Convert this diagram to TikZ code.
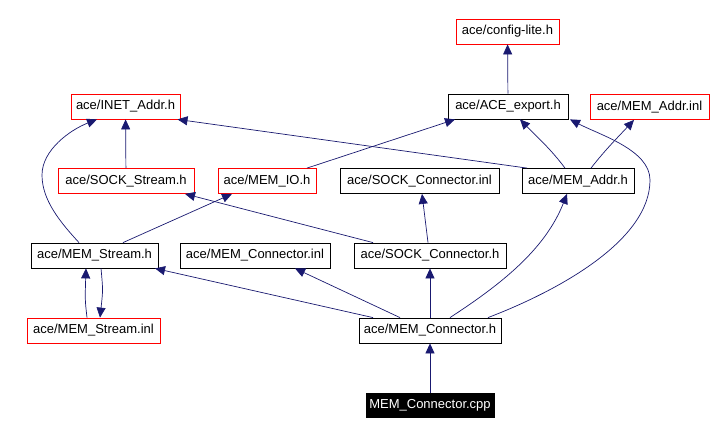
\documentclass[tikz,border=0pt]{standalone}
\usepackage{fontspec}
\setmainfont{Liberation Sans}
\usetikzlibrary{arrows.meta}
\definecolor{midnight}{RGB}{25,25,112}
\tikzstyle{header}=[draw=red,line width=0.8pt,minimum height=25pt,inner sep=0pt,font=\fontsize{13}{15}\selectfont]
\tikzstyle{file}=[draw=black,line width=0.8pt,minimum height=25pt,inner sep=0pt,font=\fontsize{13}{15}\selectfont]
\tikzstyle{source}=[fill=black,text=white,minimum height=25pt,inner sep=0pt,font=\fontsize{13}{15}\selectfont]

\begin{document}
\begin{tikzpicture}[x=1pt,y=-1pt]
    \tikzstyle{dep}=[draw=midnight,line width=0.7pt,-{Triangle[length=10pt,width=9pt]}]
    \useasboundingbox (0,0) rectangle (714,435);
    \node[header,minimum width=103pt] (config) at (507.5,31.5) {ace/config-lite.h};
    \node[file,minimum width=120pt] (export) at (508,106.5) {ace/ACE\_export.h};
    \node[header,minimum width=119pt] (addrinl) at (649.5,107) {ace/MEM\_Addr.inl};
    \node[header,minimum width=109pt] (inet) at (125.5,106.5) {ace/INET\_Addr.h};
    \node[header,minimum width=136pt] (sockstream) at (126,181) {ace/SOCK\_Stream.h};
    \node[header,minimum width=98pt] (memio) at (267,181) {ace/MEM\_IO.h};
    \node[file,minimum width=159pt] (sockconninl) at (419.5,181) {ace/SOCK\_Connector.inl};
    \node[file,minimum width=112pt] (memaddr) at (578,181) {ace/MEM\_Addr.h};
    \node[file,minimum width=127pt] (memstream) at (94.5,255.5) {ace/MEM\_Stream.h};
    \node[file,minimum width=150pt] (memconninl) at (255,255.5) {ace/MEM\_Connector.inl};
    \node[file,minimum width=152pt] (sockconn) at (430,255.5) {ace/SOCK\_Connector.h};
    \node[header,minimum width=133pt] (memstreaminl) at (93.5,330.5) {ace/MEM\_Stream.inl};
    \node[file,minimum width=142pt] (memconn) at (430,330.5) {ace/MEM\_Connector.h};
    \node[source,minimum width=129pt] (cpp) at (430,405.5) {MEM\_Connector.cpp};
    % includes
    \draw[dep] (export) -- (config);
    \draw[dep] ([xshift=40pt]memio.north) -- ([xshift=-53pt]export.south);
    \draw[dep] ([xshift=-13pt]memaddr.north) .. controls (550,148) and (535,135) .. ([xshift=12pt]export.south);
    \draw[dep] ([xshift=13pt]memaddr.north) .. controls (605,150) and (620,135) .. ([xshift=-15.5pt]addrinl.south);
    \draw[dep] ([xshift=-51pt]memaddr.north) -- ([xshift=52pt]inet.south);
    \draw[dep] (sockstream) -- (inet);
    \draw[dep] ([xshift=-15.5pt]memstream.north) .. controls (60,222) and (42,200) .. (42,175)
        .. controls (42,150) and (70,130) .. ([xshift=-28.5pt]inet.south);
    \draw[dep] ([xshift=-57pt]sockconn.north) -- ([xshift=59pt]sockstream.south);
    \draw[dep] ([xshift=28.5pt]memstream.north) -- ([xshift=-35pt]memio.south);
    \draw[dep] ([xshift=-2pt]sockconn.north) -- ([xshift=2.5pt]sockconninl.south);
    \draw[dep] ([xshift=20pt]memconn.north) .. controls (500,285) and (545,250) .. ([xshift=-11pt]memaddr.south);
    \draw[dep] ([xshift=58pt]memconn.north) .. controls (560,290) and (650,240) .. (650,180)
        .. controls (650,150) and (600,135) .. ([xshift=62pt]export.south);
    \draw[dep] ([xshift=-57pt]memconn.north) -- ([xshift=60.5pt]memstream.south);
    \draw[dep] ([xshift=-30pt]memconn.north) -- ([xshift=40pt]memconninl.south);
    \draw[dep] (memconn) -- (sockconn);
    \draw[dep] ([xshift=-6.5pt]memstreaminl.north) .. controls (85,300) .. ([xshift=-8.5pt]memstream.south);
    \draw[dep] ([xshift=6.5pt]memstream.south) .. controls (103,290) .. ([xshift=6.5pt]memstreaminl.north);
    \draw[dep] (cpp) -- (memconn);
\end{tikzpicture}
\end{document}
